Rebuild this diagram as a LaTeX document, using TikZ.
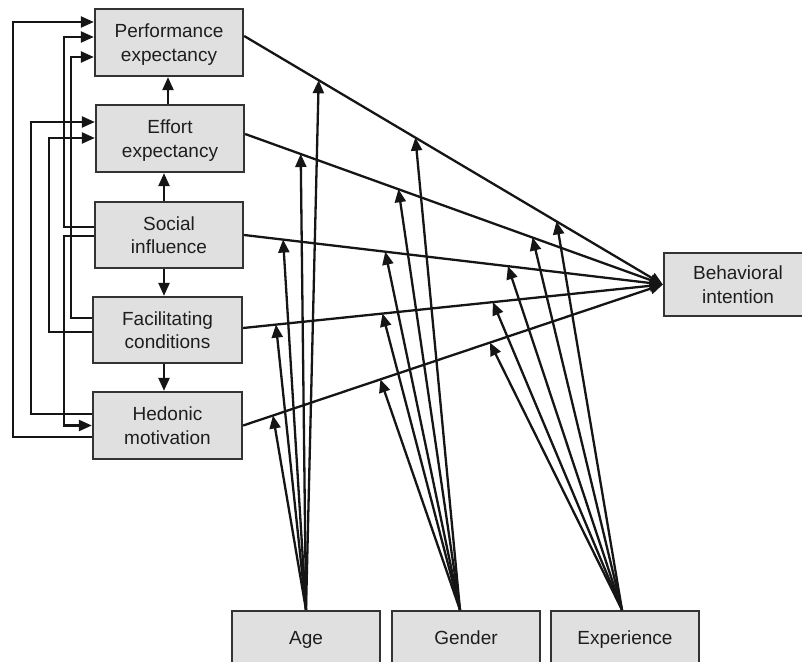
\documentclass[tikz,border=0pt]{standalone}
\usepackage{fontspec}
\setmainfont{Liberation Sans}
\usetikzlibrary{arrows.meta,calc}
\definecolor{boxfill}{HTML}{E0E0E0}
\definecolor{boxline}{HTML}{333333}
\definecolor{ln}{HTML}{151515}
\definecolor{txt}{HTML}{1E1E1E}
\begin{document}
\begin{tikzpicture}[x=1pt,y=-1pt,
  box/.style={draw=boxline, fill=boxfill, line width=2.3pt, minimum width=148pt,
    minimum height=67pt, inner sep=0pt, align=center, text depth=0pt,
    font=\fontsize{19}{23.5}\selectfont, text=txt},
  single/.style={text height=14pt, text depth=4pt},
  arr/.style={line width=2.3pt, draw=ln, -{Triangle[length=13pt,width=11pt]}}]
\clip (0,0) rectangle (802,661);
\fill[white] (0,0) rectangle (802,661);
% nodes
\node[box] (PE) at (169,42.5) {Performance\\expectancy};
\node[box] (EE) at (170,138.5) {Effort\\expectancy};
\node[box, minimum height=66pt] (SI) at (169,235) {Social\\influence};
\node[box, minimum width=149pt, minimum height=66pt] (FC) at (167.5,330) {Facilitating\\conditions};
\node[box, minimum width=149pt] (HM) at (167.5,425.5) {Hedonic\\motivation};
\node[box, minimum height=63pt] (BI) at (738,284.5) {Behavioral\\intention};
\node[box, single, minimum height=57pt] (AG) at (306,639.5) {Age};
\node[box, single, minimum height=57pt] (GE) at (466,639.5) {Gender};
\node[box, single, minimum height=57pt] (EX) at (625,639.5) {Experience};
% main paths to behavioral intention
\coordinate (peo) at ([yshift=6.5pt]PE.east);
\coordinate (eeo) at ([yshift=4.5pt]EE.east);
\coordinate (sio) at (SI.east);
\coordinate (fco) at ([yshift=2pt]FC.east);
\coordinate (hmo) at (HM.east);
\coordinate (bii) at (BI.west);
\foreach \s in {peo,eeo,sio,fco,hmo} \draw[arr] (\s) -- (bii);
% moderator target points
\coordinate (pe-a) at ($(peo)!0.178!(bii)$);
\coordinate (pe-g) at ($(peo)!0.409!(bii)$);
\coordinate (pe-e) at ($(peo)!0.746!(bii)$);
\coordinate (ee-a) at ($(eeo)!0.133!(bii)$);
\coordinate (ee-g) at ($(eeo)!0.367!(bii)$);
\coordinate (ee-e) at ($(eeo)!0.688!(bii)$);
\coordinate (si-a) at ($(sio)!0.093!(bii)$);
\coordinate (si-g) at ($(sio)!0.337!(bii)$);
\coordinate (si-e) at ($(sio)!0.630!(bii)$);
\coordinate (fc-a) at ($(fco)!0.078!(bii)$);
\coordinate (fc-g) at ($(fco)!0.332!(bii)$);
\coordinate (fc-e) at ($(fco)!0.595!(bii)$);
\coordinate (hm-a) at ($(hmo)!0.071!(bii)$);
\coordinate (hm-g) at ($(hmo)!0.327!(bii)$);
\coordinate (hm-e) at ($(hmo)!0.588!(bii)$);
\coordinate (asrc) at (AG.north);
\coordinate (gsrc) at ([xshift=-6pt]GE.north);
\coordinate (esrc) at ([xshift=-3pt]EX.north);
\foreach \t in {pe,ee,si,fc,hm} {
  \draw[arr] (asrc) -- (\t-a);
  \draw[arr] (gsrc) -- (\t-g);
  \draw[arr] (esrc) -- (\t-e);
}
% vertical arrows between boxes
\coordinate (v1) at ([xshift=-2pt]EE.north);
\draw[arr] (v1) -- (v1 |- PE.south);
\coordinate (v2) at ([xshift=-5pt]SI.north);
\draw[arr] (v2) -- (v2 |- EE.south);
\coordinate (v3) at ([xshift=-5pt]SI.south);
\draw[arr] (v3) -- (v3 |- FC.north);
\coordinate (v4) at ([xshift=-3.5pt]FC.south);
\draw[arr] (v4) -- (v4 |- HM.north);
% left side feedback paths
\coordinate (xa) at (13,0);
\coordinate (xb) at (31,0);
\coordinate (xc) at (49,0);
\coordinate (xd) at (64,0);
\coordinate (xf) at (71,0);
\coordinate (hm1) at ([yshift=-11.5pt]HM.west);
\coordinate (pe1) at ([yshift=20.5pt]PE.west);
\coordinate (hm2) at ([yshift=11.5pt]HM.west);
\coordinate (ee1) at ([yshift=16.5pt]EE.west);
\coordinate (fc1) at ([yshift=-2pt]FC.west);
\coordinate (ee2) at ([yshift=0.5pt]EE.west);
\coordinate (si1) at ([yshift=8pt]SI.west);
\coordinate (pe2) at ([yshift=5.5pt]PE.west);
\coordinate (si2) at ([yshift=-1pt]SI.west);
\coordinate (hm3) at (HM.west);
\coordinate (fc2) at ([yshift=12pt]FC.west);
\coordinate (pe3) at ([yshift=-14.5pt]PE.west);
\draw[arr] (hm1) -- (hm1 -| xa) |- (pe1);
\draw[arr] (hm2) -- (hm2 -| xb) |- (ee1);
\draw[arr] (fc1) -- (fc1 -| xc) |- (ee2);
\draw[arr] (si1) -- (si1 -| xd) |- (pe2);
\draw[arr] (si2) -- (si2 -| xd) |- (hm3);
\draw[arr] (fc2) -- (fc2 -| xf) |- (pe3);
\end{tikzpicture}
\end{document}
